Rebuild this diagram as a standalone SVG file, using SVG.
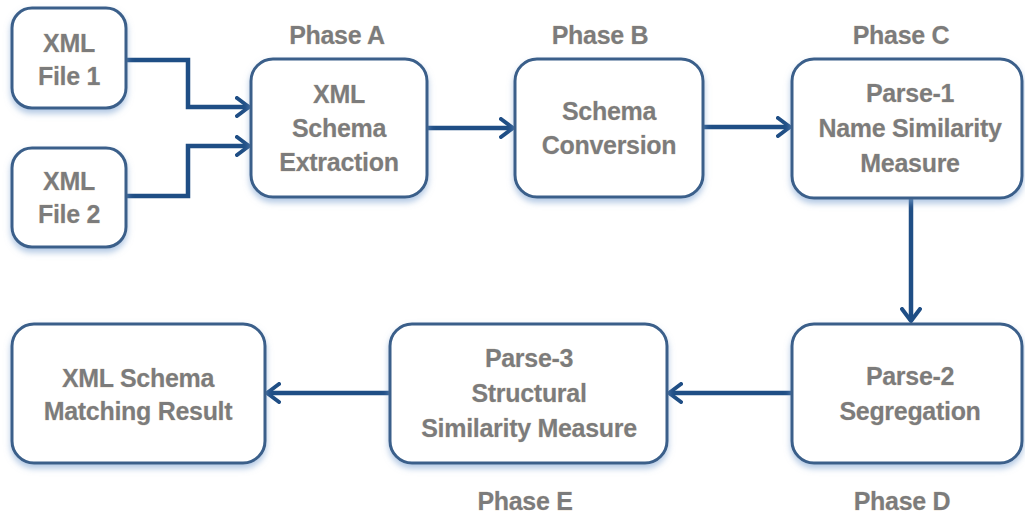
<svg xmlns="http://www.w3.org/2000/svg" width="1025" height="516" viewBox="0 0 1025 516">
<defs>
<filter id="sh" x="-10%" y="-10%" width="120%" height="130%">
<feDropShadow dx="0" dy="4" stdDeviation="3" flood-color="#7fa3d0" flood-opacity="0.6"/>
</filter>
<marker id="ah" viewBox="0 0 16 22" refX="14" refY="11" markerWidth="16" markerHeight="22" markerUnits="userSpaceOnUse" orient="auto">
<path d="M2,2 L14,11 L2,20" fill="none" stroke="#1f4e85" stroke-width="4" stroke-linecap="round" stroke-linejoin="round"/>
</marker>
</defs>
<style>
.box{fill:#fff;stroke:#3a5f8a;stroke-width:3;filter:url(#sh)}
.t{font-family:"Liberation Sans",Arial,sans-serif;font-weight:bold;font-size:25px;letter-spacing:-0.3px;fill:#7c7c7c;text-anchor:middle;stroke:#d9c9b0;stroke-width:0.4;paint-order:stroke}
.c{fill:none;stroke:#1f4e85;stroke-width:4.5;marker-end:url(#ah)}
</style>
<rect width="1025" height="516" fill="#fff"/>
<g id="connectors">
<path class="c" d="M127,60 H188 V107 H249"/>
<path class="c" d="M127,196 H188 V146 H249"/>
<path class="c" d="M428,128 H513"/>
<path class="c" d="M703,127 H790"/>
<path class="c" d="M911,198 V321"/>
<path class="c" d="M792,393 H669"/>
<path class="c" d="M390,393 H267"/>
</g>
<g id="file1"><rect class="box" x="12" y="8" width="114" height="100" rx="20"/>
<text class="t" x="69" y="52">XML</text><text class="t" x="69" y="85">File 1</text></g>
<g id="file2"><rect class="box" x="12" y="148" width="114" height="99" rx="20"/>
<text class="t" x="69" y="190">XML</text><text class="t" x="69" y="223">File 2</text></g>
<g id="phaseA"><rect class="box" x="251" y="59" width="176" height="138" rx="22"/>
<text class="t" x="339" y="103">XML</text><text class="t" x="339" y="137">Schema</text><text class="t" x="339" y="171">Extraction</text></g>
<g id="phaseB"><rect class="box" x="515" y="59" width="188" height="138" rx="22"/>
<text class="t" x="609" y="120">Schema</text><text class="t" x="609" y="154">Conversion</text></g>
<g id="phaseC"><rect class="box" x="792" y="59" width="230" height="139" rx="22"/>
<text class="t" x="910" y="102">Parse-1</text><text class="t" x="910" y="137">Name Similarity</text><text class="t" x="910" y="172">Measure</text></g>
<g id="phaseD"><rect class="box" x="792" y="324" width="230" height="139" rx="22"/>
<text class="t" x="910" y="385">Parse-2</text><text class="t" x="910" y="420">Segregation</text></g>
<g id="phaseE"><rect class="box" x="390" y="324" width="277" height="139" rx="22"/>
<text class="t" x="529" y="367">Parse-3</text><text class="t" x="529" y="402">Structural</text><text class="t" x="529" y="437">Similarity Measure</text></g>
<g id="result"><rect class="box" x="12" y="324" width="253" height="139" rx="22"/>
<text class="t" x="138" y="387">XML Schema</text><text class="t" x="138" y="420">Matching Result</text></g>
<g id="labels">
<text class="t" x="337" y="44">Phase A</text>
<text class="t" x="600" y="44">Phase B</text>
<text class="t" x="901" y="44">Phase C</text>
<text class="t" x="902" y="510">Phase D</text>
<text class="t" x="525" y="510">Phase E</text>
</g>
</svg>
